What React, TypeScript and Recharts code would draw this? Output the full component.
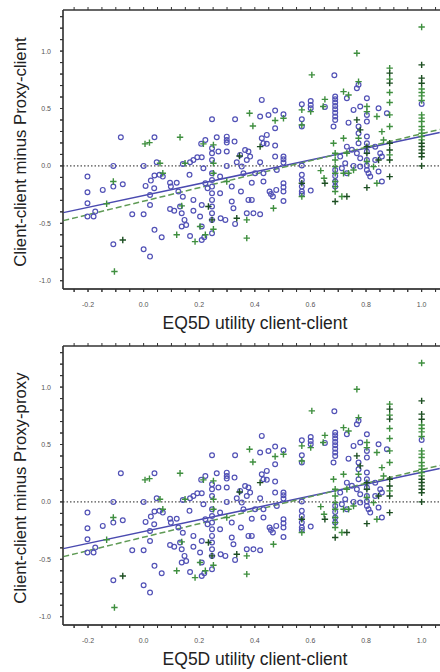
import React from 'react';
import { ScatterChart, Scatter, XAxis, YAxis, ReferenceLine } from 'recharts';

const xTitle = 'EQ5D utility client-client';
const yTitles = ['Client-client minus Proxy-client', 'Client-client minus Proxy-proxy'];

const xTicks = [-0.25, -0.2, -0.15, -0.1, -0.05, 0, 0.05, 0.1, 0.15, 0.2, 0.25, 0.3, 0.35, 0.4, 0.45, 0.5, 0.55, 0.6, 0.65, 0.7, 0.75, 0.8, 0.85, 0.9, 0.95, 1.0, 1.05];
const xTickLabels = [-0.2, 0, 0.2, 0.4, 0.6, 0.8, 1.0];
const yTicks = [-1.0, -0.9, -0.8, -0.7, -0.6, -0.5, -0.4, -0.3, -0.2, -0.1, 0, 0.1, 0.2, 0.3, 0.4, 0.5, 0.6, 0.7, 0.8, 0.9, 1.0, 1.1, 1.2, 1.3];
const yTickLabels = [-1.0, -0.5, 0, 0.5, 1.0];

// Regression fits (intercept, slope)
const fitClient = { intercept: -0.258, slope: 0.515 };
const fitProxy = { intercept: -0.307, slope: 0.587 };

const circlePts: [number, number][] = [
  [-0.202, -0.093], [-0.202, -0.229], [-0.202, -0.325], [-0.202, -0.441], [-0.18, -0.441], [-0.174, -0.398],
  [-0.147, -0.209], [-0.109, 0], [-0.109, -0.18], [-0.082, 0.25], [-0.075, -0.16], [-0.109, -0.682],
  [-0.041, -0.421], [0, -0.421], [0, -0.726], [0.023, -0.79], [0, 0], [0.007, -0.174], [0.038, -0.194],
  [0.023, -0.253], [0.023, -0.34], [0.026, -0.128], [0.039, -0.084], [0.057, -0.078], [0.069, -0.093],
  [0.039, 0.25], [0.039, -0.557], [0.065, -0.621], [0.047, 0.032], [0.095, -0.146], [0.119, -0.146],
  [0.098, -0.18], [0.095, -0.375], [0.11, -0.39], [0.125, -0.223], [0.131, -0.354], [0.137, -0.412],
  [0.141, -0.268], [0.141, 0.017], [0.165, -0.078], [0.147, -0.47], [0.137, -0.528], [0.153, -0.514],
  [0.167, 0.032], [0.179, 0.052], [0.193, 0.075], [0.209, 0.075], [0.179, -0.296], [0.179, -0.39],
  [0.167, -0.61], [0.209, -0.645], [0.218, -0.621], [0.207, 0.192], [0.222, 0.226], [0.215, -0.02],
  [0.222, -0.151], [0.23, -0.194], [0.209, -0.34], [0.203, -0.441], [0.209, -0.528],
  [0.246, 0.407], [0.246, 0.154], [0.246, 0.11], [0.246, 0.052], [0.246, -0.064], [0.246, -0.122],
  [0.246, -0.18], [0.246, -0.238], [0.246, -0.296], [0.246, -0.354], [0.246, -0.412], [0.246, -0.47],
  [0.246, -0.587], [0.263, 0.25], [0.269, 0.125], [0.275, -0.093], [0.299, 0.255], [0.299, 0.226],
  [0.299, 0.203], [0.299, 0.125], [0.299, 0], [0.277, -0.456], [0.294, -0.47], [0.275, -0.238],
  [0.327, 0.212], [0.335, 0.032], [0.329, 0.407], [0.317, -0.18], [0.317, -0.31], [0.323, -0.369],
  [0.329, -0.505], [0.347, 0.096], [0.353, -0.006], [0.359, -0.064], [0.35, -0.223], [0.365, 0.139],
  [0.377, 0.125], [0.383, 0.081], [0.371, 0.052], [0.377, -0.296], [0.389, -0.296], [0.371, -0.412],
  [0.395, -0.412], [0.419, -0.421], [0.389, -0.146], [0.401, -0.064], [0.425, 0.575], [0.419, 0.43],
  [0.425, 0.241], [0.431, 0.197], [0.443, 0.192], [0.419, 0.032], [0.431, -0.064], [0.431, -0.136],
  [0.443, 0.27], [0.449, 0.444], [0.453, -0.223], [0.458, -0.244], [0.465, -0.267], [0.473, 0.482],
  [0.473, 0.328], [0.473, 0.177], [0.473, 0.081], [0.479, -0.035], [0.477, -0.209], [0.503, 0.45],
  [0.503, 0.081], [0.503, 0.058], [0.503, 0.029], [0.503, -0.151], [0.503, -0.186], [0.503, -0.223],
  [0.503, -0.305], [0.569, 0.537], [0.569, 0.407], [0.569, 0.343], [0.569, 0.003], [0.569, -0.078],
  [0.569, -0.122], [0.569, -0.18], [0.569, -0.223], [0.569, -0.244], [0.601, 0.566], [0.601, 0.531],
  [0.601, 0.502], [0.601, -0.215], [0.652, 0.514], [0.686, 0.79], [0.689, 0.604], [0.689, 0.58],
  [0.689, 0.552], [0.689, 0.522], [0.689, 0.493], [0.689, 0.464], [0.689, 0.43], [0.689, 0.4],
  [0.683, 0.343], [0.689, -0.035], [0.689, -0.087], [0.689, -0.136], [0.689, -0.18], [0.707, 0.081],
  [0.713, -0.02], [0.731, 0.589], [0.725, 0.023], [0.731, -0.064], [0.737, 0.377], [0.755, 0.488],
  [0.767, 0.677], [0.773, 0.706], [0.773, 0.343], [0.773, 0.285], [0.773, 0.197], [0.767, 0.11],
  [0.779, 0.067], [0.779, -0.006], [0.779, 0.517], [0.803, 0.589], [0.803, 0.444], [0.803, 0.386],
  [0.803, 0.256], [0.803, 0.197], [0.803, 0.125], [0.803, 0.052], [0.803, 0.003], [0.803, -0.035],
  [0.809, -0.064], [0.815, -0.093], [0.845, 0.502], [0.845, -0.049], [0.833, 0.052], [0.857, 0.081],
  [0.857, -0.136], [0.875, 0.459], [0.731, 0.168], [0.749, 0.14], [0.833, 0.168], [0.851, 0.11],
  [0.755, 0], [1.0, 0.54],
];

const plusPts: [number, number][] = [
  [-0.105, -0.92], [-0.109, -0.136], [-0.133, -0.33], [0.005, 0.192], [0.021, 0.203], [0.059, 0.023],
  [0.069, -0.064], [0.131, 0.25], [0.119, -0.6], [0.137, -0.348], [0.149, 0.023], [0.185, -0.659],
  [0.215, 0.192], [0.203, -0.528], [0.222, -0.6], [0.251, 0.183], [0.251, 0.023], [0.251, -0.064],
  [0.251, -0.551], [0.299, -0.136], [0.371, -0.629], [0.371, -0.47], [0.381, 0.459], [0.393, 0.348],
  [0.467, -0.369], [0.473, 0.395], [0.503, 0.415], [0.569, 0.357], [0.569, 0.488], [0.569, -0.267],
  [0.601, 0.473], [0.605, 0.793], [0.652, 0.58], [0.646, 0.517], [0.637, -0.041], [0.649, -0.107],
  [0.683, 0.197], [0.689, 0.11], [0.689, 0.052], [0.689, -0.006], [0.689, -0.064], [0.689, -0.136],
  [0.689, -0.18], [0.689, -0.223], [0.713, -0.267], [0.719, 0.647], [0.737, 0.618], [0.719, 0.241],
  [0.719, -0.064], [0.737, -0.064], [0.767, 0.981], [0.773, 0.734], [0.773, 0.241], [0.803, 0.517],
  [0.803, 0.473], [0.803, 0.038], [0.839, 0.43], [0.839, -0.151], [0.857, 0.299], [0.885, 0.852],
  [0.885, 0.756], [0.885, 0.639], [0.885, 0.552], [0.885, 0.445], [0.885, 0.343], [0.885, 0.096],
  [0.731, 0.11], [0.755, -0.035], [0.827, -0.006], [0.863, 0.226], [1.0, 1.21], [1.0, 0.67],
  [1.0, 0.64], [1.0, 0.61], [1.0, 0.57], [1.0, 0.445], [1.0, 0.416], [1.0, 0.387], [1.0, 0.343],
  [1.0, 0.314], [1.0, 0.285], [1.0, 0.256], [1.0, 0.227],
];

const darkPlusPts: [number, number][] = [
  [-0.075, -0.645], [0.246, -0.47], [0.233, -0.354], [0.345, 0.087], [0.335, -0.456], [0.419, 0.168],
  [0.569, -0.151], [0.652, -0.151], [0.689, -0.31], [0.731, -0.267], [0.767, 0.401], [0.779, 0.314],
  [0.803, 0.168], [0.803, 0.11], [0.803, -0.189], [0.845, 0.052], [0.885, 0.808], [0.885, 0.721],
  [0.885, 0.198], [0.885, 0.139], [0.885, 0.052], [0.885, -0.093], [1.0, 0.88], [1.0, 0.765],
  [1.0, 0.72], [1.0, 0.198], [1.0, 0.169], [1.0, 0.14], [1.0, 0.11], [1.0, 0.08], [1.0, 0.0],
];

const X_DOMAIN: [number, number] = [-0.29, 1.066];
const Y_DOMAIN: [number, number] = [-1.072, 1.358];

// plot area geometry (px) used to size tick marks in data units
const PLOT_W = 377;
const PLOT_H = 279;
const TICK_PX = 3;
const TICK_DX = (TICK_PX * (X_DOMAIN[1] - X_DOMAIN[0])) / PLOT_W;
const TICK_DY = (TICK_PX * (Y_DOMAIN[1] - Y_DOMAIN[0])) / PLOT_H;

const FONT = '"Liberation Sans", Arial, sans-serif';
const CIRCLE_COLOR = '#5252b6';
const PLUS_COLOR = '#3f8f3f';
const DARK_PLUS_COLOR = '#1d4f22';
const AXIS_COLOR = '#333';

const toObj = (arr: [number, number][]) => arr.map(([x, y]) => ({ x, y }));
const circles = toObj(circlePts);
const pluses = toObj(plusPts);
const darkPluses = toObj(darkPlusPts);

const near = (v: number, list: number[]) => list.some((t) => Math.abs(t - v) < 1e-6);
const fmtX = (v: number) => (near(v, xTickLabels) ? v.toFixed(1) : '');
const fmtY = (v: number) => (near(v, yTickLabels) ? v.toFixed(1) : '');

const CircleShape = (props: any) => {
  const { cx, cy } = props;
  if (cx == null || cy == null) return null;
  return <circle cx={cx} cy={cy} r={2.4} fill="none" stroke={CIRCLE_COLOR} strokeWidth={1.2} />;
};

const makePlus = (color: string) => (props: any) => {
  const { cx, cy } = props;
  if (cx == null || cy == null) return null;
  const s = 3.2;
  return (
    <path d={`M${cx - s},${cy}H${cx + s}M${cx},${cy - s}V${cy + s}`} stroke={color} strokeWidth={1.4} fill="none" />
  );
};
const PlusShape = makePlus(PLUS_COLOR);
const DarkPlusShape = makePlus(DARK_PLUS_COLOR);

const seg = (fit: { intercept: number; slope: number }) => {
  const x0 = X_DOMAIN[0] + 0.001;
  const x1 = X_DOMAIN[1] - 0.001;
  return [
    { x: x0, y: fit.intercept + fit.slope * x0 },
    { x: x1, y: fit.intercept + fit.slope * x1 },
  ];
};

const tickStyle = { fontSize: 7, fill: '#555', fontFamily: FONT };

function Panel({ yTitle }: { yTitle: string }) {
  return (
    <div style={{ position: 'relative', width: 440, height: 336 }}>
      <ScatterChart width={440} height={336} margin={{ top: 10, right: 0, bottom: 17, left: 0 }}>
        <XAxis
          type="number"
          dataKey="x"
          domain={X_DOMAIN}
          ticks={xTicks}
          interval={0}
          tickFormatter={fmtX}
          tickSize={3}
          tickMargin={10}
          height={30}
          tick={tickStyle}
          stroke={AXIS_COLOR}
        />
        <YAxis
          type="number"
          dataKey="y"
          domain={Y_DOMAIN}
          ticks={yTicks}
          interval={0}
          tickFormatter={fmtY}
          tickSize={3}
          tickMargin={9}
          width={63}
          tick={tickStyle}
          stroke={AXIS_COLOR}
        />
        {/* frame */}
        <ReferenceLine
          segment={[{ x: X_DOMAIN[0], y: Y_DOMAIN[0] }, { x: X_DOMAIN[1], y: Y_DOMAIN[0] }]}
          stroke={AXIS_COLOR}
          strokeWidth={1.3}
          ifOverflow="visible"
        />
        <ReferenceLine
          segment={[{ x: X_DOMAIN[0], y: Y_DOMAIN[1] }, { x: X_DOMAIN[1], y: Y_DOMAIN[1] }]}
          stroke={AXIS_COLOR}
          strokeWidth={1.3}
          ifOverflow="visible"
        />
        <ReferenceLine
          segment={[{ x: X_DOMAIN[0], y: Y_DOMAIN[0] }, { x: X_DOMAIN[0], y: Y_DOMAIN[1] }]}
          stroke={AXIS_COLOR}
          strokeWidth={1.3}
          ifOverflow="visible"
        />
        {/* tick marks */}
        {xTicks.map((v) => (
          <ReferenceLine
            key={`b${v}`}
            segment={[{ x: v, y: Y_DOMAIN[0] }, { x: v, y: Y_DOMAIN[0] - TICK_DY }]}
            stroke={AXIS_COLOR}
            strokeWidth={1}
            ifOverflow="visible"
          />
        ))}
        {xTicks.map((v) => (
          <ReferenceLine
            key={`t${v}`}
            segment={[{ x: v, y: Y_DOMAIN[1] }, { x: v, y: Y_DOMAIN[1] + TICK_DY }]}
            stroke={AXIS_COLOR}
            strokeWidth={1}
            ifOverflow="visible"
          />
        ))}
        {yTicks.map((v) => (
          <ReferenceLine
            key={`l${v}`}
            segment={[{ x: X_DOMAIN[0], y: v }, { x: X_DOMAIN[0] - TICK_DX, y: v }]}
            stroke={AXIS_COLOR}
            strokeWidth={1}
            ifOverflow="visible"
          />
        ))}
        <ReferenceLine y={0} stroke="#222" strokeDasharray="1.5 2" strokeWidth={1} />
        <Scatter data={circles} shape={CircleShape} isAnimationActive={false} />
        <Scatter data={pluses} shape={PlusShape} isAnimationActive={false} />
        <Scatter data={darkPluses} shape={DarkPlusShape} isAnimationActive={false} />
        <ReferenceLine segment={seg(fitClient)} stroke="#4a4ab0" strokeWidth={1.5} />
        <ReferenceLine segment={seg(fitProxy)} stroke="#5f9a55" strokeWidth={1.5} strokeDasharray="6 3" />
      </ScatterChart>
      <div
        style={{
          position: 'absolute',
          left: 105,
          top: 313,
          width: 300,
          textAlign: 'center',
          fontFamily: FONT,
          fontSize: 17.5,
          lineHeight: '20px',
          color: '#222',
          whiteSpace: 'nowrap',
        }}
      >
        {xTitle}
      </div>
      <div
        style={{
          position: 'absolute',
          left: -129,
          top: 142,
          width: 300,
          height: 20,
          textAlign: 'center',
          fontFamily: FONT,
          fontSize: 16.8,
          lineHeight: '20px',
          color: '#222',
          whiteSpace: 'nowrap',
          transform: 'rotate(-90deg)',
          transformOrigin: '50% 50%',
        }}
      >
        {yTitle}
      </div>
    </div>
  );
}

export default function App() {
  return (
    <div style={{ position: 'absolute', left: 0, top: 0, width: 440, height: 672, background: '#fff' }}>
      {yTitles.map((t) => (
        <Panel key={t} yTitle={t} />
      ))}
    </div>
  );
}
